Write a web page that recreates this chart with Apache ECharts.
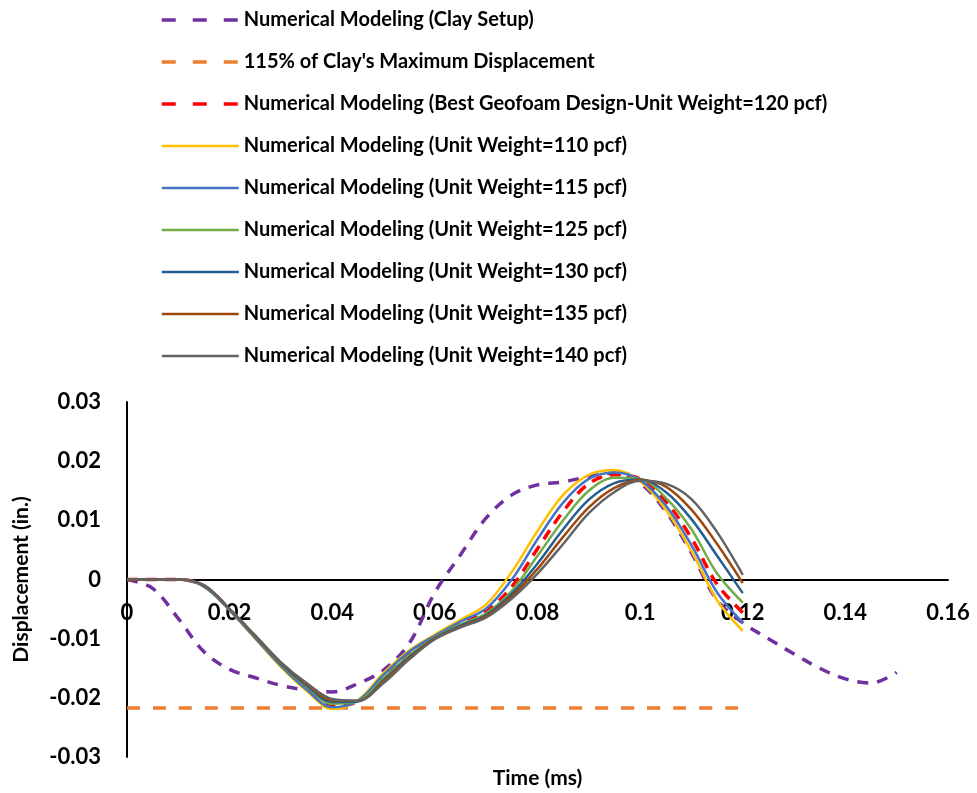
<!DOCTYPE html>
<html>
<head>
<meta charset="utf-8">
<script src="https://cdn.jsdelivr.net/npm/echarts@6/dist/echarts.min.js"></script>
<style>
html,body{margin:0;padding:0;background:#fff;}
#chart{width:977px;height:793px;}
</style>
</head>
<body>
<div id="chart"></div>
<script>
// Time (ms) samples for the geofoam models
const timeGeo = [0,0.005,0.01,0.015,0.02,0.025,0.03,0.035,0.04,0.045,0.05,0.055,0.06,0.065,0.07,0.075,0.08,0.085,0.09,0.095,0.1,0.105,0.11,0.115,0.12];
// Time (ms) samples for the clay model
const timeClay = [0,0.005,0.01,0.015,0.02,0.025,0.03,0.035,0.04,0.045,0.05,0.055,0.06,0.065,0.07,0.075,0.08,0.085,0.09,0.095,0.1,0.105,0.11,0.115,0.12,0.125,0.13,0.135,0.14,0.145,0.15];

const clay = [0,-0.0015,-0.0066,-0.0122,-0.0152,-0.0166,-0.0179,-0.0187,-0.0190,-0.0176,-0.0153,-0.0108,-0.0022,0.0042,0.0104,0.0143,0.0160,0.0165,0.0174,0.0180,0.0163,0.0115,0.0045,-0.0035,-0.0073,-0.0100,-0.0126,-0.0150,-0.0168,-0.0175,-0.0157];
const clayLimitX = [0,0.12];
const clayLimit = [-0.0217,-0.0217];

const uw110 = [0,0,0,-0.0012,-0.0052,-0.0100,-0.0148,-0.0188,-0.0219,-0.0204,-0.0158,-0.0120,-0.0093,-0.0068,-0.0042,0.0013,0.0082,0.0143,0.0177,0.0185,0.0166,0.0118,0.0048,-0.0035,-0.0087];
const uw115 = [0,0,0,-0.0012,-0.0052,-0.0099,-0.0146,-0.0186,-0.0216,-0.0205,-0.0161,-0.0122,-0.0095,-0.0071,-0.0049,0.0000,0.0068,0.0130,0.0170,0.0181,0.0168,0.0125,0.0058,-0.0022,-0.0073];
const uw120 = [0,0,0,-0.0011,-0.0051,-0.0098,-0.0145,-0.0184,-0.0213,-0.0206,-0.0164,-0.0125,-0.0097,-0.0074,-0.0054,-0.0012,0.0052,0.0115,0.0162,0.0177,0.0170,0.0132,0.0070,-0.0008,-0.0056];
const uw125 = [0,0,0,-0.0011,-0.0051,-0.0097,-0.0143,-0.0181,-0.0210,-0.0206,-0.0167,-0.0128,-0.0098,-0.0076,-0.0057,-0.0019,0.0040,0.0100,0.0150,0.0172,0.0170,0.0138,0.0085,0.0010,-0.0039];
const uw130 = [0,0,0,-0.0010,-0.0050,-0.0096,-0.0142,-0.0179,-0.0207,-0.0206,-0.0170,-0.0131,-0.0099,-0.0078,-0.0060,-0.0024,0.0027,0.0085,0.0135,0.0163,0.0169,0.0148,0.0102,0.0040,-0.0023];
const uw135 = [0,0,0,-0.0010,-0.0050,-0.0095,-0.0141,-0.0177,-0.0204,-0.0205,-0.0172,-0.0133,-0.0100,-0.0080,-0.0062,-0.0028,0.0018,0.0072,0.0122,0.0155,0.0168,0.0157,0.0118,0.0060,-0.0006];
const uw140 = [0,0,0,-0.0010,-0.0050,-0.0095,-0.0140,-0.0175,-0.0202,-0.0205,-0.0175,-0.0135,-0.0101,-0.0081,-0.0064,-0.0032,0.0010,0.0060,0.0112,0.0148,0.0167,0.0162,0.0136,0.0080,0.0008];

const names = [
  "Numerical Modeling (Clay Setup)",
  "115% of Clay's Maximum Displacement",
  "Numerical Modeling (Best Geofoam Design-Unit Weight=120 pcf)",
  "Numerical Modeling (Unit Weight=110 pcf)",
  "Numerical Modeling (Unit Weight=115 pcf)",
  "Numerical Modeling (Unit Weight=125 pcf)",
  "Numerical Modeling (Unit Weight=130 pcf)",
  "Numerical Modeling (Unit Weight=135 pcf)",
  "Numerical Modeling (Unit Weight=140 pcf)"
];
const dashedNames = [names[0], names[1], names[2]];

const pair = (xs, ys) => xs.map((x, i) => [x, ys[i]]);
const FONT = 'Lato';

function lineSeries(name, xs, ys, color, width, type) {
  return {
    name: name, type: 'line', data: pair(xs, ys), smooth: 0.35,
    symbol: 'none', showSymbol: false,
    lineStyle: { color: color, width: width, type: type || 'solid' },
    itemStyle: { color: color },
    emphasis: { disabled: true }, silent: true
  };
}

const chart = echarts.init(document.getElementById('chart'));
chart.setOption({
  animation: false,
  backgroundColor: '#fff',
  legend: {
    orient: 'vertical', left: 155, top: 5,
    itemWidth: 77, itemHeight: 14, itemGap: 22,
    itemStyle: { opacity: 0 },
    textStyle: { fontFamily: FONT, fontWeight: 'bold', fontSize: 20, lineHeight: 20, color: '#000' },
    data: names.map(n => dashedNames.indexOf(n) >= 0
      ? { name: n, lineStyle: { type: [14, 17], width: 3.5 } }
      : { name: n, lineStyle: { width: 2.5 } })
  },
  grid: { left: 127, right: 29, top: 402, bottom: 36, outerBoundsMode: 'none', containLabel: false },
  xAxis: {
    type: 'value', min: 0, max: 0.16, interval: 0.02,
    position: 'bottom', offset: -177.5,
    name: 'Time (ms)', nameLocation: 'middle', nameGap: 188,
    nameTextStyle: { fontFamily: FONT, fontWeight: 'bold', fontSize: 21, color: '#000' },
    axisLine: { onZero: false, lineStyle: { color: '#000', width: 2 } },
    axisTick: { show: false },
    splitLine: { show: false },
    axisLabel: { fontFamily: FONT, fontWeight: 'bold', fontSize: 22, color: '#000', margin: 22,
      formatter: v => String(+v.toFixed(2)) }
  },
  yAxis: {
    type: 'value', min: -0.03, max: 0.03, interval: 0.01,
    name: 'Displacement (in.)', nameLocation: 'middle', nameGap: 95,
    nameTextStyle: { fontFamily: FONT, fontWeight: 'bold', fontSize: 21, color: '#000' },
    axisLine: { show: true, onZero: false, lineStyle: { color: '#000', width: 2 } },
    axisTick: { show: false },
    splitLine: { show: false },
    axisLabel: { fontFamily: FONT, fontWeight: 'bold', fontSize: 22, color: '#000', margin: 26,
      formatter: v => String(+v.toFixed(2)) }
  },
  series: [
    lineSeries(names[0], timeClay, clay, '#7030A0', 3.5, [11, 9]),
    lineSeries(names[1], clayLimitX, clayLimit, '#ED7D31', 3.5, [13, 13]),
    lineSeries(names[2], timeGeo, uw120, '#FF0000', 3.5, [11, 8]),
    lineSeries(names[3], timeGeo, uw110, '#FFC000', 2.5),
    lineSeries(names[4], timeGeo, uw115, '#4472C4', 2.5),
    lineSeries(names[5], timeGeo, uw125, '#70AD47', 2.5),
    lineSeries(names[6], timeGeo, uw130, '#255E91', 2.5),
    lineSeries(names[7], timeGeo, uw135, '#9E480E', 2.5),
    lineSeries(names[8], timeGeo, uw140, '#636363', 2.5)
  ]
});
</script>
</body>
</html>
